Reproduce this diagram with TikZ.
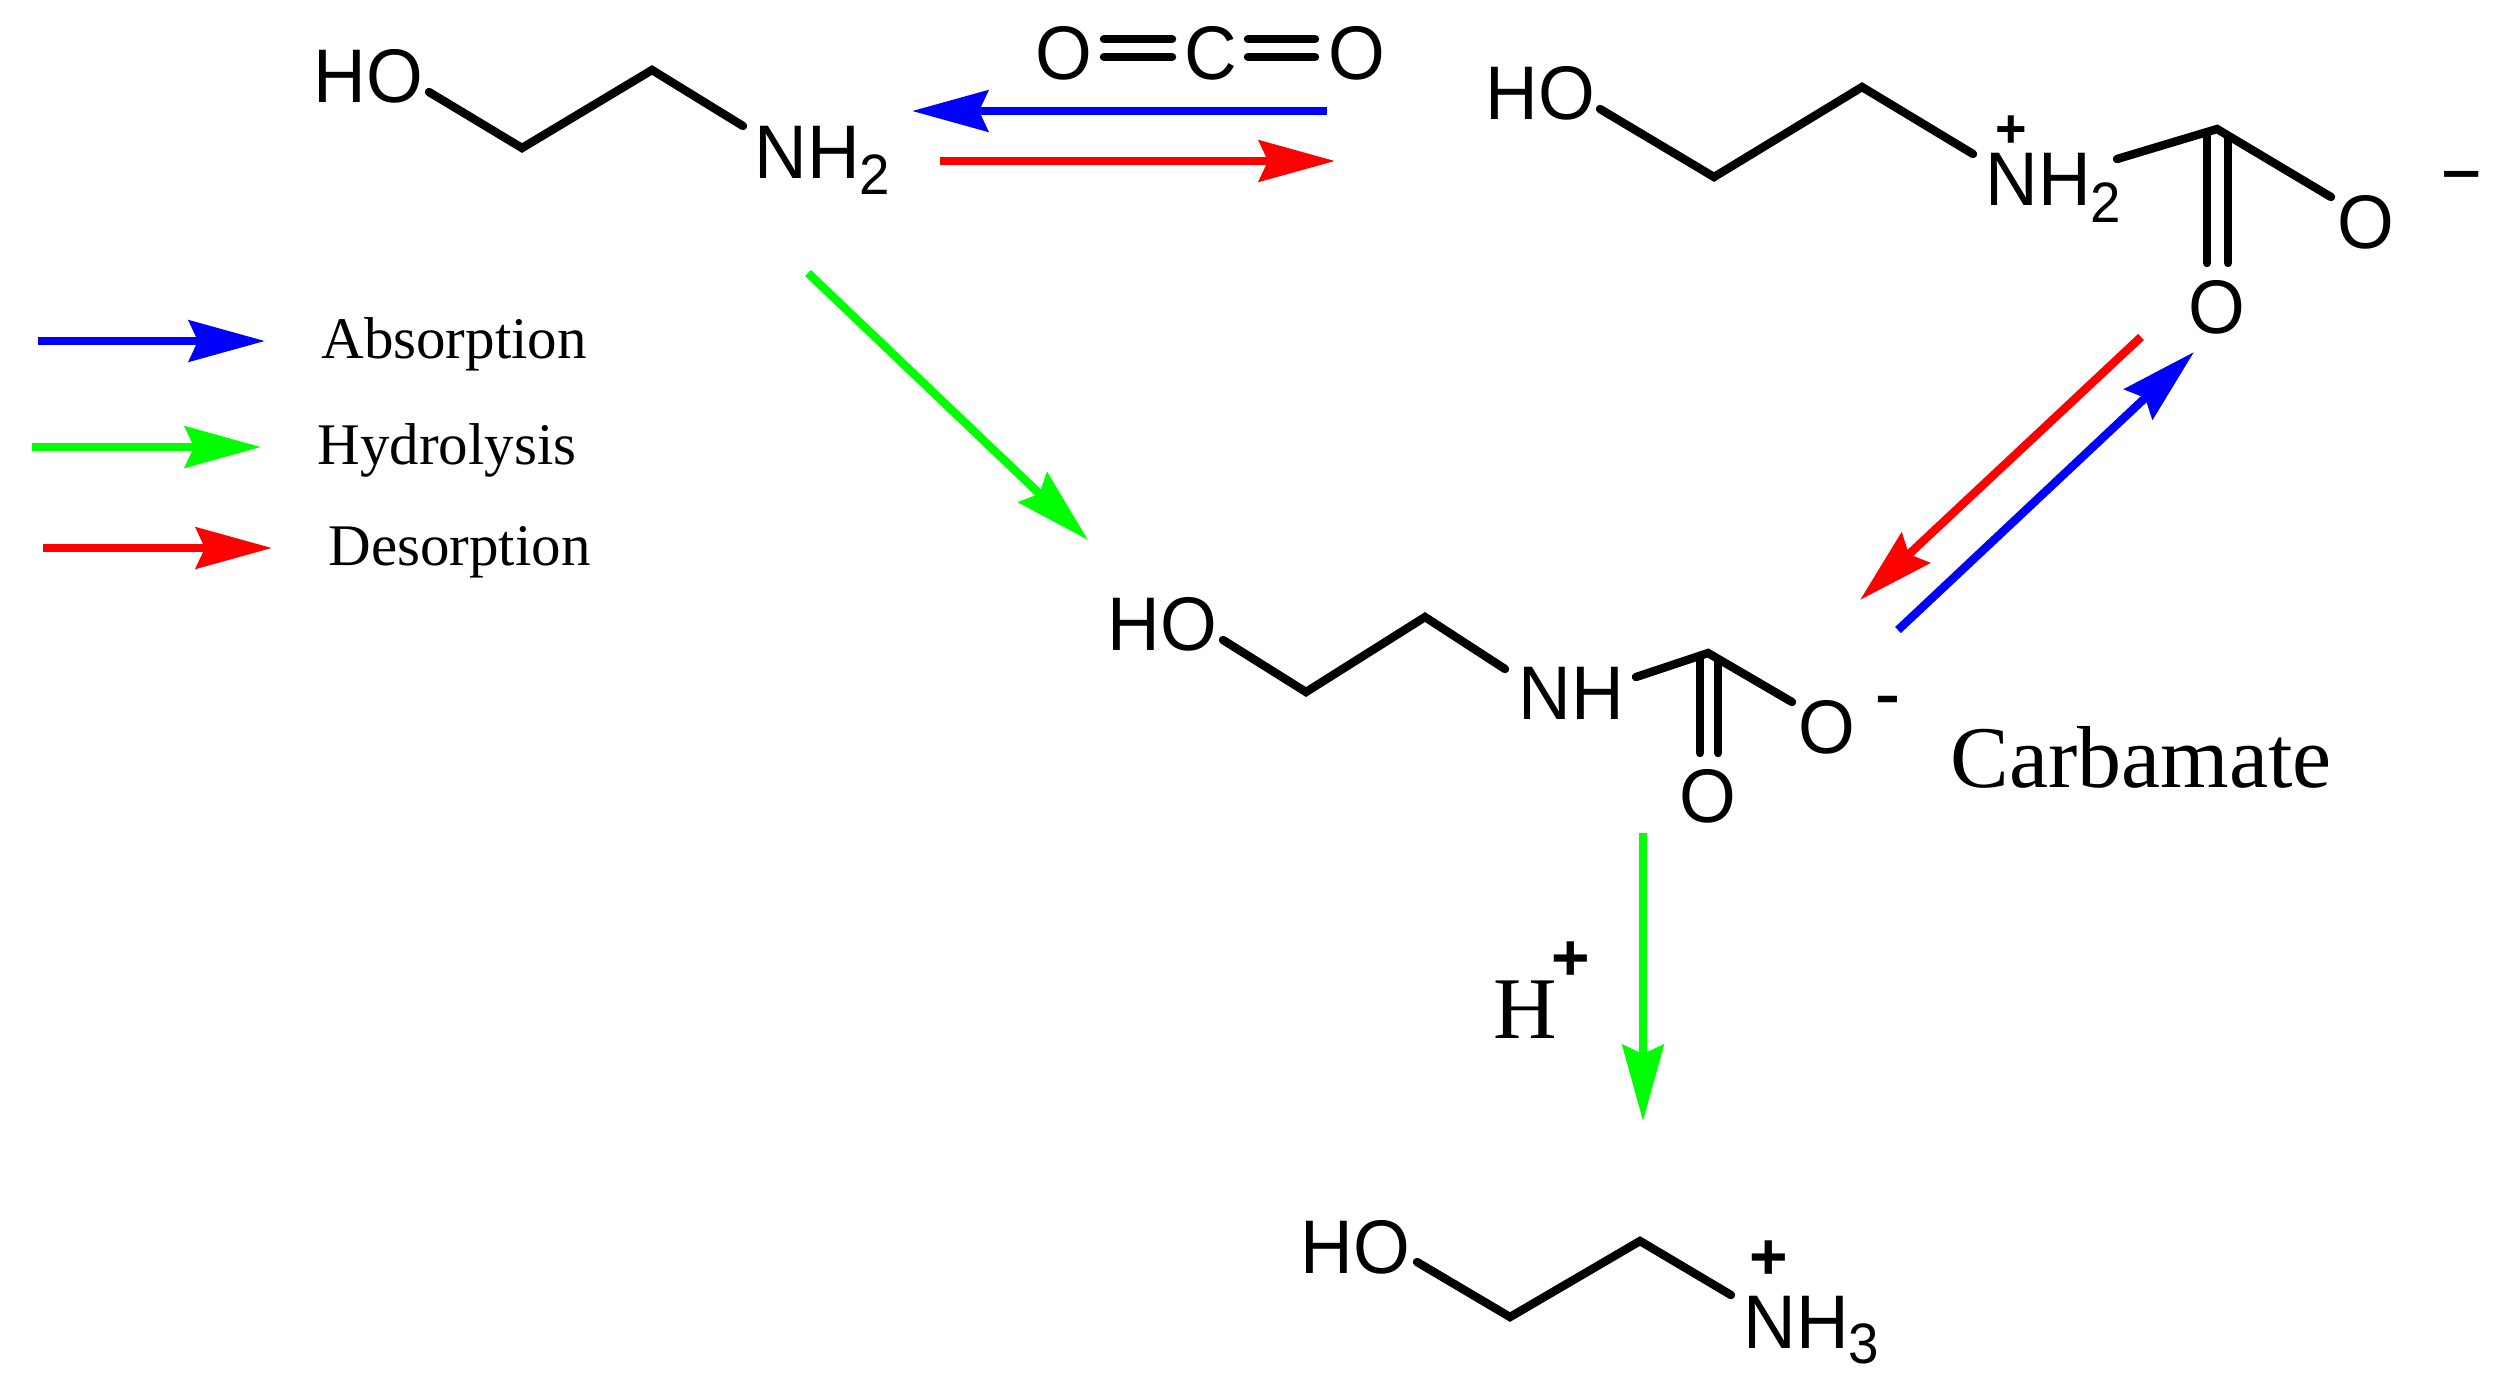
\documentclass[tikz,border=0pt]{standalone}
\usepackage{fontspec}
\setmainfont{Liberation Serif}
\setsansfont{Liberation Sans}
\newfontfamily\chemfont[FakeStretch=0.96]{Liberation Sans}
\usetikzlibrary{arrows.meta}
\definecolor{absblue}{rgb}{0,0,1}
\definecolor{hydgreen}{rgb}{0,1,0}
\definecolor{desred}{rgb}{1,0,0}
\newcommand{\subdig}[2]{\raisebox{#1}{\fontsize{28.5}{30}\selectfont #2}}
\tikzset{
  atom/.style={inner sep=0pt,anchor=base west,font=\fontsize{38}{40}\selectfont\chemfont},
  atomc/.style={inner sep=0pt,anchor=base,font=\fontsize{38}{40}\selectfont\chemfont},
  chargeS/.style={inner sep=0pt,anchor=center,font=\fontsize{27}{30}\selectfont\sffamily\bfseries},
  chargeL/.style={inner sep=0pt,anchor=center,font=\fontsize{33}{36}\selectfont\sffamily\bfseries},
  chargeM/.style={inner sep=0pt,anchor=center,font=\fontsize{30}{32}\selectfont\sffamily\bfseries},
  legendtext/.style={inner sep=0pt,anchor=base west,font=\fontsize{29.5}{32}\selectfont\rmfamily},
  bigtext/.style={inner sep=0pt,anchor=base west,font=\fontsize{44}{46}\selectfont\rmfamily},
  bond/.style={draw=black,line width=4.2pt,line cap=round,line join=miter},
  co2bond/.style={draw=black,line width=4.2pt,line cap=round},
  react/.style={line width=4.2pt,-{Stealth[length=38pt,width=20.5pt,inset=4.5pt]}},
  absorb/.style={react,draw=absblue,fill=absblue},
  hydro/.style={react,draw=hydgreen,fill=hydgreen},
  desorb/.style={react,draw=desred,fill=desred}
}
\begin{document}
\begin{tikzpicture}[x=0.5pt,y=-0.5pt]
\useasboundingbox (0,0) rectangle (2499,1383);
% ---- legend
\coordinate (la1) at (38,341);  \coordinate (la2) at (265,341);
\coordinate (lh1) at (32,447);  \coordinate (lh2) at (261,447);
\coordinate (ld1) at (43,548);  \coordinate (ld2) at (272,548);
\draw[absorb] (la1) -- (la2);
\draw[hydro] (lh1) -- (lh2);
\draw[desorb] (ld1) -- (ld2);
\node[legendtext] (labs) at (321,358.5) {Absorption};
\node[legendtext] (lhyd) at (317,464.5) {Hydrolysis};
\node[legendtext] (ldes) at (328,565.5) {Desorption};
% ---- MEA
\node[atom] (aHO) at (313,102) {HO};
\node[atom] (aN) at (754,178) {NH\subdig{-8pt}{2}};
\coordinate (a1) at (429,92);
\coordinate (a2) at (522,148);
\coordinate (a3) at (652,70);
\coordinate (a4) at (743,126);
\draw[bond] (a1) -- (a2) -- (a3) -- (a4);
% ---- CO2
\node[atomc] (cO1) at (1064,79) {O};
\node[atomc] (cC) at (1211,79) {C};
\node[atomc] (cO2) at (1357,79) {O};
\coordinate (c1a) at (1104,39); \coordinate (c1b) at (1172,39);
\coordinate (c2a) at (1104,57); \coordinate (c2b) at (1172,57);
\coordinate (c3a) at (1248,39); \coordinate (c3b) at (1315,39);
\coordinate (c4a) at (1248,57); \coordinate (c4b) at (1315,57);
\draw[co2bond] (c1a) -- (c1b);
\draw[co2bond] (c2a) -- (c2b);
\draw[co2bond] (c3a) -- (c3b);
\draw[co2bond] (c4a) -- (c4b);
\coordinate (b1) at (1327,111); \coordinate (b2) at (912,111);
\coordinate (r1) at (940,161);  \coordinate (r2) at (1335,161);
\draw[absorb] (b1) -- (b2);
\draw[desorb] (r1) -- (r2);
% ---- zwitterion
\node[atom] (zHO) at (1485,119) {HO};
\node[atom] (zN) at (1985,205) {NH\subdig{-8.5pt}{2}};
\node[chargeS] (zP) at (2011,132) {+};
\node[atomc] (zO1) at (2365.5,248) {O};
\node[atomc] (zO2) at (2217,333) {O};
\node[chargeM] (zM) at (2461.5,181) {\scalebox{1.15}[1]{–}};
\coordinate (z1) at (1600,109);
\coordinate (z2) at (1714,177);
\coordinate (z3) at (1862,87);
\coordinate (z4) at (1973,154);
\draw[bond] (z1) -- (z2) -- (z3) -- (z4);
\coordinate (z5) at (2117,159);
\coordinate (zC) at (2217,129);
\coordinate (z6) at (2331,197);
\draw[bond] (z5) -- (zC) -- (z6);
\coordinate (zd1a) at (2207,133); \coordinate (zd1b) at (2207,263);
\coordinate (zd2a) at (2228,138); \coordinate (zd2b) at (2228,263);
\draw[bond] (zd1a) -- (zd1b);
\draw[bond] (zd2a) -- (zd2b);
% ---- exchange arrows
\coordinate (dr1) at (2141,337); \coordinate (dr2) at (1860,600);
\coordinate (db1) at (1898,630); \coordinate (db2) at (2194,352);
\draw[desorb] (dr1) -- (dr2);
\draw[absorb] (db1) -- (db2);
% ---- carbamate
\node[atom] (kHO) at (1107,650) {HO};
\node[atom] (kN) at (1518,719) {NH};
\node[atomc] (kO1) at (1827,753) {O};
\node[atomc] (kO2) at (1708,822) {O};
\node[chargeM] (kM) at (1888,705) {\scalebox{1.25}[0.9]{-}};
\node[bigtext] (carb) at (1950,787) {Carbamate};
\coordinate (k1) at (1223,640);
\coordinate (k2) at (1306,692);
\coordinate (k3) at (1425,617);
\coordinate (k4) at (1505,669);
\draw[bond] (k1) -- (k2) -- (k3) -- (k4);
\coordinate (k5) at (1636,677);
\coordinate (kC) at (1708,653);
\coordinate (k6) at (1792,702);
\draw[bond] (k5) -- (kC) -- (k6);
\coordinate (kd1a) at (1700,657); \coordinate (kd1b) at (1700,753);
\coordinate (kd2a) at (1718,660); \coordinate (kd2b) at (1718,753);
\draw[bond] (kd1a) -- (kd1b);
\draw[bond] (kd2a) -- (kd2b);
% ---- hydrolysis arrows
\coordinate (g1) at (808,273); \coordinate (g2) at (1088,540);
\draw[hydro] (g1) -- (g2);
\coordinate (g3) at (1643,833); \coordinate (g4) at (1643,1121);
\draw[hydro] (g3) -- (g4);
\node[bigtext] (hH) at (1493,1038) {H};
\node[chargeL] (hP) at (1570.5,961.5) {+};
% ---- protonated MEA
\node[atom] (pHO) at (1300,1273) {HO};
\node[atom] (pN) at (1743,1348) {NH\subdig{-7.5pt}{3}};
\node[chargeL] (pP) at (1769,1260) {+};
\coordinate (p1) at (1417,1262);
\coordinate (p2) at (1510,1317);
\coordinate (p3) at (1640,1241);
\coordinate (p4) at (1731,1295);
\draw[bond] (p1) -- (p2) -- (p3) -- (p4);
\end{tikzpicture}
\end{document}
